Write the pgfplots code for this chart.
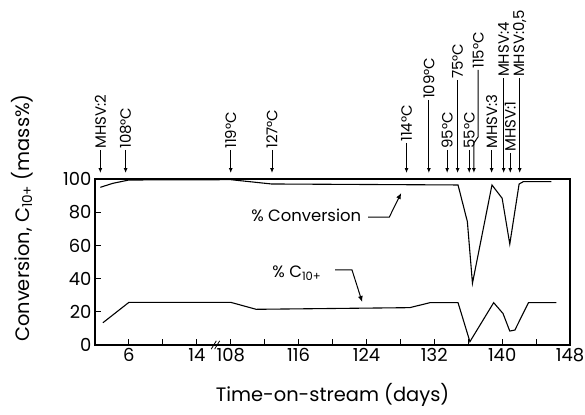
\documentclass[border=0pt]{standalone}
\usepackage{fontspec}
\setmainfont{Poppins}
\usepackage{pgfplots}
\pgfplotsset{compat=1.18}
\usetikzlibrary{arrows.meta}

% broken time axis: days <= 14 as is, days >= 108 shifted left by 90
\pgfplotstableread{
day conv
2.63 95.0
4.11 97.4
6.0 99.4
108.0 99.6
112.8 97.0
134.8 96.4
135.9 74.3
136.5 37.2
138.8 96.4
140.0 88.4
140.9 60.8
142.0 97.0
142.5 98.4
145.8 98.4
}\convtab
\pgfplotstableread{
day cten
2.93 13.4
6.0 25.7
108.0 25.7
111.0 21.5
129.1 22.5
131.5 25.5
134.8 25.5
136.2 2.0
139.0 25.5
140.1 19.0
140.9 8.4
141.5 9.0
143.1 25.5
146.4 25.5
}\ctentab

\newcommand{\ann}[3]{% scaled x, tail y, text
  \draw[line width=1bp,-{Latex[length=5bp,width=4bp]}] (axis cs:#1,#2) -- (axis cs:#1,103.6);
  \node[rotate=90,anchor=west,inner sep=1bp,font=\fontsize{15}{15}\selectfont] at (axis cs:#1,#2) {#3};}

\begin{document}
\begin{tikzpicture}
\begin{axis}[
  scale only axis, width=475bp, height=166bp,
  xmin=2, xmax=58, ymin=0, ymax=100,
  clip=false,
  axis line style={line width=1.1bp},
  x filter/.expression={x>100 ? x-90 : x},
  xtick={6,10,...,58},
  xticklabels={6,,14,108,,116,,124,,132,,140,,148},
  ytick={0,20,...,100},
  xtick pos=bottom, ytick pos=left,
  tick align=inside, major tick length=6bp,
  tick style={line width=1bp, black},
  ticklabel style={font=\fontsize{18}{18}\selectfont},
  /pgf/number format/assume math mode=true,
  xlabel={Time-on-stream (days)},
  ylabel={Conversion, C\textsubscript{10+} (mass\%)},
  label style={font=\fontsize{19.5}{19.5}\selectfont},
  xlabel style={at={(axis description cs:0.5,-0.30)},anchor=center},
  ylabel style={at={(axis description cs:-0.154,0.765)},anchor=center},
]
\addplot[black, line width=1.1bp, no marks] table[x=day,y=conv] {\convtab};
\addplot[black, line width=1.1bp, no marks] table[x=day,y=cten] {\ctentab};

% break marks on the time axis
\draw[line width=0.8bp] (axis cs:15.7,-2.5) -- (axis cs:16.3,2.5);
\draw[line width=0.8bp] (axis cs:16.1,-2.5) -- (axis cs:16.7,2.5);

% curve callouts
\node[font=\fontsize{16.5}{16.5}\selectfont] at (axis cs:26.9,78.3) {\% Conversion};
\draw[line width=1bp,-{Latex[length=6bp,width=5bp]}] (axis cs:34.2,77.1) -- (axis cs:36.7,77.1) -- (axis cs:38.1,91.6);
\node[font=\fontsize{16.5}{16.5}\selectfont] at (axis cs:25.8,43.4) {\% C\textsubscript{10+}};
\draw[line width=1bp,-{Latex[length=6bp,width=5bp]}] (axis cs:30.3,45.2) -- (axis cs:32.3,45.2) -- (axis cs:33.5,25.9);

% operating changes
\ann{2.63}{117.5}{MHSV:2}
\ann{5.61}{117.5}{108°C}
\ann{18.0}{117.5}{119°C}
\ann{22.87}{117.5}{127°C}
\ann{38.73}{121.7}{114°C}
\ann{41.36}{147.6}{109°C}
\ann{43.52}{117.5}{95°C}
\ann{44.75}{159.6}{75°C}
\ann{46.12}{117.5}{55°C}
\ann{48.76}{117.5}{MHSV:3}
\ann{50.18}{160.8}{MHSV:4}
\ann{50.96}{115.7}{MHSV:1}
\ann{52.07}{160.8}{MHSV:0,5}
\draw[line width=1bp,-{Latex[length=5bp,width=4bp]}] (axis cs:47.18,165.7) -- (axis cs:47.18,125.5) -- (axis cs:46.67,121.7) -- (axis cs:46.67,103.6);
\node[rotate=90,anchor=west,inner sep=1bp,font=\fontsize{15}{15}\selectfont] at (axis cs:47.18,165.7) {115°C};
\end{axis}
\pgfresetboundingbox
\path (current axis.south west) ++(-95bp,-70bp) rectangle ([shift={(15bp,179bp)}]current axis.north east);
\end{tikzpicture}
\end{document}
